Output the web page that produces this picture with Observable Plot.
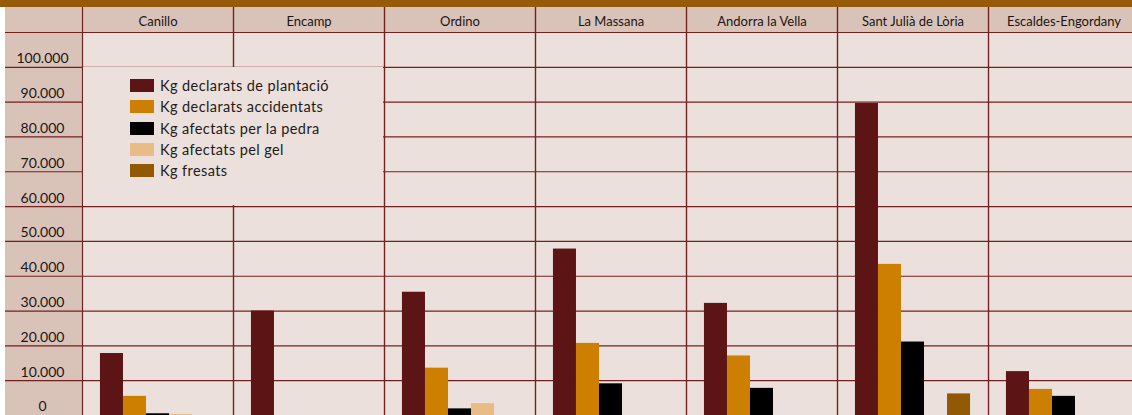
<!DOCTYPE html>
<html>
<head>
<meta charset="utf-8">
<script src="https://cdn.jsdelivr.net/npm/d3@7"></script>
<script src="https://cdn.jsdelivr.net/npm/@observablehq/plot@0.6"></script>
<style>
  html, body { margin: 0; padding: 0; background: #ffffff; overflow: hidden; width: 1132px; height: 415px; }
  #band { width: 1132px; height: 7px; background: #955b0a; }
  #chart { padding-left: 5px; width: 1134px; }
  #legend { position: absolute; left: 83px; top: 67px; width: 300px; height: 138px; background: #ebe0db;
            font-family: Lato, "Open Sans", sans-serif; font-size: 14.5px; letter-spacing: 0.4px; color: #231a1a; }
  .item { position: absolute; left: 47px; height: 21px; display: flex; align-items: center; white-space: nowrap; }
  .sw { width: 24px; height: 13px; margin-right: 6px; }
</style>
</head>
<body>
<div id="band"></div>
<div id="chart"></div>
<div id="legend"></div>
<script>
const municipalities = ["Canillo", "Encamp", "Ordino", "La Massana", "Andorra la Vella", "Sant Julià de Lòria", "Escaldes-Engordany"];
const series = ["Kg declarats de plantació", "Kg declarats accidentats", "Kg afectats per la pedra", "Kg afectats pel gel", "Kg fresats"];
const colors = ["#5c1414", "#cc7f00", "#000000", "#e8bd85", "#925905"];
const plantacio   = [17800, 30000, 35400, 47800, 32200, 89600, 12600];
const accidentats = [5500, 0, 13600, 20700, 17100, 43400, 7500];
const pedra       = [500, 0, 1900, 9100, 7800, 21100, 5500];
const gel         = [300, 0, 3400, 0, 0, 0, 0];
const fresats     = [0, 0, 0, 0, 0, 6200, 0];
const yTicks = [0, 10000, 20000, 30000, 40000, 50000, 60000, 70000, 80000, 90000, 100000];
const yTop = 110000;

const seriesValues = [plantacio, accidentats, pedra, gel, fresats];
const rows = [];
municipalities.forEach((m, i) => {
  series.forEach((s, j) => {
    const v = seriesValues[j][i];
    if (v > 0) rows.push({municipality: m, series: s, value: v});
  });
});

const fmt = d3.formatLocale({decimal: ",", thousands: ".", grouping: [3], currency: ["", ""]}).format(",");
const gridTicks = yTicks.concat([yTop]);
const lineColor = "#74201f";

const chart = Plot.plot({
  width: 1134,
  height: 408,
  marginTop: 25,
  marginLeft: 77,
  marginRight: 0,
  marginBottom: 0,
  style: {background: "#d9c3b8", fontFamily: "Lato, 'Open Sans', sans-serif", fontSize: "14px", color: "#1c1414", maxWidth: "none", overflow: "hidden"},
  fx: {domain: municipalities, padding: 0, axis: null, round: false},
  x: {domain: series, paddingInner: 0, paddingOuter: 0.78, axis: null, round: false},
  y: {domain: [0, yTop], axis: null},
  color: {domain: series, range: colors},
  marks: [
    Plot.frame({fill: "#ebe0db", stroke: "none"}),
    Plot.ruleY(gridTicks, {stroke: lineColor, strokeWidth: 1.2}),
    Plot.barY(rows, {fx: "municipality", x: "series", y: "value", fill: "series"}),
    Plot.frame({fill: "none", stroke: lineColor, strokeWidth: 1.2, insetTop: -30, insetBottom: -5}),
    Plot.axisY(gridTicks, {
      tickSize: 77, label: null, tickFormat: () => "",
      stroke: lineColor, strokeWidth: 1.2
    }),
    Plot.axisY(yTicks, {
      tickSize: 0, tickPadding: 40, textAnchor: "middle", dy: -8.5, label: null,
      tickFormat: d => fmt(d), fill: "#1c1414", fontSize: 14
    }),
    Plot.text(municipalities, {fx: d => d, text: d => d, frameAnchor: "top", lineAnchor: "bottom", dy: -7, fontSize: 13, fill: "#1c1414"})
  ]
});
document.getElementById("chart").appendChild(chart);

const legend = document.getElementById("legend");
series.forEach((s, i) => {
  const item = document.createElement("div");
  item.className = "item";
  item.style.top = (8 + i * 21.25) + "px";
  const sw = document.createElement("span");
  sw.className = "sw";
  sw.style.background = colors[i];
  const t = document.createElement("span");
  t.textContent = s;
  item.appendChild(sw);
  item.appendChild(t);
  legend.appendChild(item);
});
</script>
</body>
</html>
